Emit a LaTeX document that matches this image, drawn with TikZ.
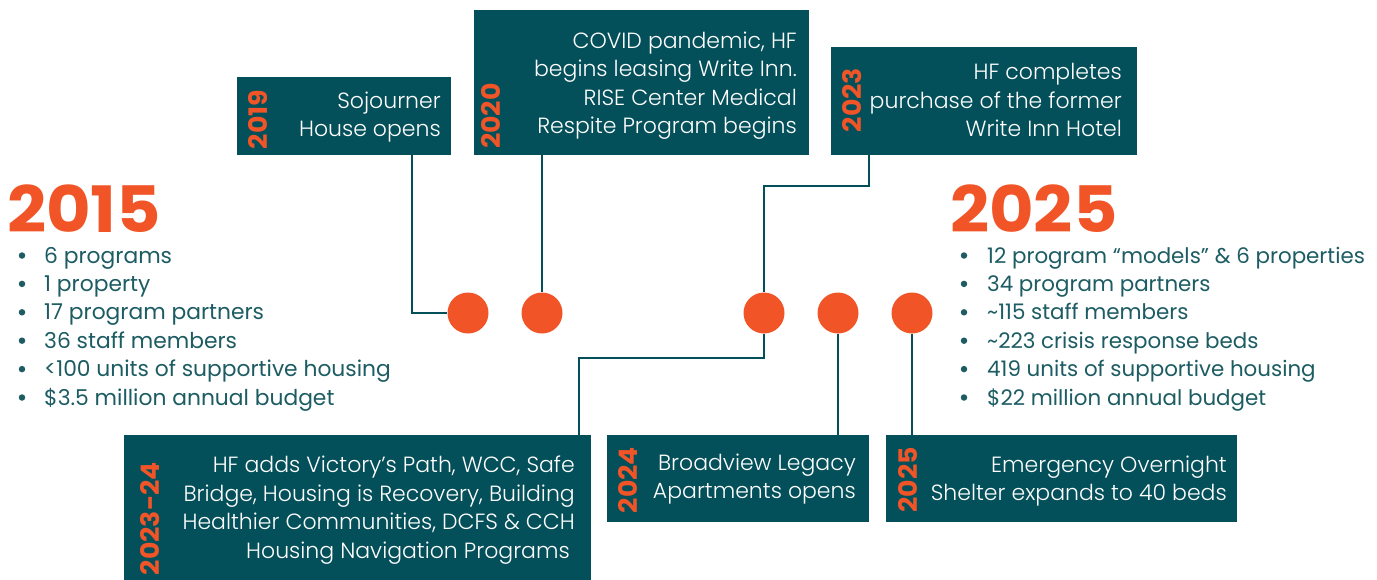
\documentclass[tikz,border=0pt]{standalone}
\usepackage{fontspec}
\setmainfont{Poppins}
\IfFontExistsTF{Poppins Light}{\newfontfamily\lightfont{Poppins Light}}{\newfontfamily\lightfont{Poppins}}
\definecolor{hfteal}{HTML}{04505A}
\definecolor{hforange}{HTML}{F15527}
\definecolor{hftext}{HTML}{1C5C62}
\newcommand{\wideyr}[1]{\scalebox{1.05}[1]{#1}}
\newcommand{\widebig}[1]{\scalebox{1.07}[1]{#1}}
\begin{document}
\begin{tikzpicture}[x=1pt,y=-1pt,
  box/.style={fill=hfteal, draw=none, inner sep=0pt},
  boxtext/.style={text=white, align=right, font=\lightfont\fontsize{22}{28.5}\selectfont, inner sep=0pt},
  yearlab/.style={rotate=90, text=hforange, font=\bfseries\fontsize{25.5}{25.5}\selectfont, inner sep=0pt},
  bigyear/.style={text=hforange, font=\bfseries\fontsize{64}{64}\selectfont, inner sep=0pt, anchor=base west, text depth=0pt, text height=46pt},
  dot/.style={circle, fill=hforange, minimum size=41pt, inner sep=0pt},
  bul/.style={circle, fill=hftext, minimum size=6.5pt, inner sep=0pt},
  item/.style={text=hftext, font=\fontsize{21.8}{25}\selectfont, inner sep=0pt, anchor=base west},
  itemr/.style={item, font=\fontsize{21.4}{25}\selectfont},
  conn/.style={draw=hfteal, line width=2.5pt}]
\useasboundingbox (0,0) rectangle (1377,579);

% top boxes
\node[box, minimum width=214pt, minimum height=78pt] (b2019) at (344,116) {};
\node[box, minimum width=335pt, minimum height=145pt] (b2020) at (641.5,82.5) {};
\node[box, minimum width=306pt, minimum height=108pt] (b2023) at (984,101) {};
% bottom boxes
\node[box, minimum width=467pt, minimum height=145pt] (b2324) at (357.5,507.5) {};
\node[box, minimum width=262pt, minimum height=87pt] (b2024) at (738,478.5) {};
\node[box, minimum width=351pt, minimum height=87pt] (b2025) at (1061.5,478.5) {};

% box texts
\node[boxtext, anchor=east] (t2019) at (441,117) {Sojourner\\House opens};
\node[boxtext, anchor=east] (t2020) at (797,85.5) {COVID pandemic, HF\\begins leasing Write Inn.\\RISE Center Medical\\Respite Program begins};
\node[boxtext, anchor=east] (t2023) at (1122,100) {HF completes\\purchase of the former\\Write Inn Hotel};
\node[boxtext, anchor=east] (t2324) at (575,510) {HF adds Victory’s Path, WCC, Safe\\Bridge, Housing is Recovery, Building\\Healthier Communities, DCFS \& CCH\\Housing Navigation Programs\hspace*{5pt}};
\node[boxtext, anchor=east] (t2024) at (856,479) {Broadview Legacy\\Apartments opens};
\node[boxtext, anchor=east] (t2025) at (1227,481) {Emergency Overnight\\Shelter expands to 40 beds};

% year labels
\node[yearlab] (y2019) at (258,119.5) {\wideyr{2019}};
\node[yearlab] (y2020) at (491,116) {\wideyr{2020}};
\node[yearlab] (y2023) at (852,100) {\wideyr{2023}};
\node[yearlab] (y2324) at (150,518.5) {\wideyr{2023-24}};
\node[yearlab] (y2024) at (628,480) {\wideyr{2024}};
\node[yearlab] (y2025) at (908,480) {\wideyr{2025}};

% dots
\node[dot] (d1) at (468,313) {};
\node[dot] (d2) at (542,313) {};
\node[dot] (d3) at (764,313) {};
\node[dot] (d4) at (838,313) {};
\node[dot] (d5) at (912,313) {};

% connectors
\draw[conn] ([xshift=68pt]b2019.south) |- (d1);
\draw[conn] (d2 |- b2020.south) -- (d2);
\draw[conn] ([xshift=-115pt]b2023.south) -- ++(0,31) -| (d3);
\draw[conn] (d3) -- ++(0,45) -| ([xshift=221.5pt]b2324.north);
\draw[conn] (d4) -- (d4 |- b2024.north);
\draw[conn] (d5) -- (d5 |- b2025.north);

% big years
\node[bigyear] (g2015) at (7,232) {\widebig{2015}};
\node[bigyear] (g2025) at (950,232) {\widebig{2025}};

% lists
\foreach \t [count=\i] in {6 programs, 1 property, 17 program partners, 36 staff members, <100 units of supportive housing, \$3.5 million annual budget}{
  \node[bul] (lb\i) at (22,{255.5+28.4*(\i-1)}) {};
  \node[item] (la\i) at (44,{263+28.4*(\i-1)}) {\t};
}
\foreach \t [count=\i] in {12 program “models” \& 6 properties, 34 program partners, \textasciitilde115 staff members, \textasciitilde223 crisis response beds, 419 units of supportive housing, \$22 million annual budget}{
  \node[bul] (rb\i) at (964,{255.5+28.4*(\i-1)}) {};
  \node[itemr] (ra\i) at (987,{263+28.4*(\i-1)}) {\t};
}
\end{tikzpicture}
\end{document}
